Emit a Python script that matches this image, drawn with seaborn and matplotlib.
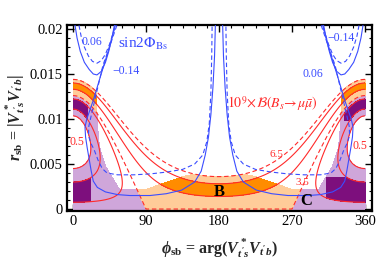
import numpy as np
import matplotlib
matplotlib.use("Agg")
import matplotlib.pyplot as plt
import seaborn as sns

sns.set_theme(style="ticks")
plt.rcParams["font.family"] = ["Liberation Serif", "DejaVu Serif"]
plt.rcParams["mathtext.fontset"] = "custom"
plt.rcParams["mathtext.rm"] = "Liberation Serif:bold"
plt.rcParams["mathtext.it"] = "Liberation Serif:italic:bold"
plt.rcParams["mathtext.bf"] = "Liberation Serif:bold"

# ---------------- data ----------------
phi_ticks = [0, 90, 180, 270, 360]
r_ticks = [0, 0.005, 0.01, 0.015, 0.02]
r_tick_labels = ["0", "0.005", "0.01", "0.015", "0.02"]

# Bs->mu mu contour family: |lambda - c| + tilt*Re(lambda)
br_center = 0.0084
br_tilt = 1.0 / 3.0
br_solid_levels = [0.0054, 0.0064, 0.0079, 0.00933, 0.01027]
br_dashed_levels = [0.0084, 0.0108]
light_purple_band = [0.0054, 0.0084]
dark_purple_band = [0.0064, 0.0079]
light_orange_band = [0.0084, 0.0108]
orange_band = [0.00933, 0.01027]

# Delta m_s allowed boundary (phi in deg, r_sb) for phi in [0,180], mirrored
clip_phi = [0, 27, 30, 33, 40, 57, 90, 135, 180]
clip_r = [0.021, 0.021, 0.0095, 0.0068, 0.0048, 0.0022, 0.0022, 0.0036, 0.0045]
dark_gap = [0.0035, 0.0098]
dark_low_phi = [21, 313]
dark_high_phi = [18, 335]

# sin 2Phi_Bs contours, left half (phi in deg, r_sb); right half is the mirror
s2p_m014_solid_phi = [52, 44.3, 34.4, 24.7, 17, 14.8, 15.5, 17.5, 20, 22.5, 25, 30, 40,
                      55, 70, 95, 115, 134, 150, 158, 163, 167, 170, 172.5, 174.5, 175.5]
s2p_m014_solid_r = [0.0204, 0.0178, 0.0149, 0.0120, 0.0100, 0.0091, 0.0080, 0.0068,
                    0.0055, 0.0042, 0.0031, 0.0024, 0.0019, 0.0016, 0.0015, 0.0015,
                    0.0017, 0.0021, 0.0030, 0.0042, 0.0060, 0.0080, 0.0105, 0.0135,
                    0.0170, 0.0204]
s2p_006_solid_phi = [2.5, 5, 9, 14, 20, 25, 29.6, 35, 40, 44, 47.5, 51]
s2p_006_solid_r = [0.0204, 0.0190, 0.0175, 0.0163, 0.0155, 0.0150, 0.0149, 0.0153,
                   0.0163, 0.0175, 0.0188, 0.0204]
s2p_m014_dashed_phi = [54, 45, 37, 30, 24, 19.5, 19, 21.5, 26, 31, 36, 42, 55, 75, 95,
                       115, 135, 150, 160, 165, 168, 170, 171, 171.5]
s2p_m014_dashed_r = [0.0204, 0.0180, 0.0160, 0.0133, 0.0110, 0.0092, 0.0082, 0.0074,
                     0.0066, 0.0054, 0.0045, 0.0040, 0.0038, 0.0038, 0.0039, 0.0041,
                     0.0044, 0.0050, 0.0060, 0.0075, 0.0095, 0.0130, 0.0170, 0.0204]
s2p_006_dashed_phi = [7.4, 10, 14, 19, 24, 29.6, 35, 40, 45, 49, 52.5]
s2p_006_dashed_r = [0.0204, 0.0192, 0.0180, 0.0170, 0.0164, 0.0162, 0.0165, 0.0172,
                    0.0183, 0.0194, 0.0204]

col_lpurple = "#cfa6da"
col_dpurple = "#7d0f7d"
col_lorange = "#ffcc99"
col_orange = "#ff8c00"
col_red = "#ff2a2a"
col_blue = "#3b4dff"

# ---------------- grid ----------------
PHI = np.linspace(0, 360, 1081)
RAD = np.linspace(0, 0.0208, 521)
P, RR = np.meshgrid(PHI, RAD)
Z = RR * np.exp(1j * np.deg2rad(P))
O = np.abs(Z - br_center) + br_tilt * Z.real

phis = np.minimum(P, 360 - P)
rclip = np.interp(phis, clip_phi, clip_r)
allowed = RR <= rclip
allowed_dark = allowed & (
    ((RR < dark_gap[0]) & ((P <= dark_low_phi[0]) | (P >= dark_low_phi[1])))
    | ((RR > dark_gap[1]) & ((P <= dark_high_phi[0]) | (P >= dark_high_phi[1])))
)

fig = plt.figure(figsize=(3.82, 2.64), dpi=100)
ax = fig.add_axes([67 / 382, 1 - 211 / 264, 305 / 382, 186 / 264])

ax.contourf(P, RR, np.ma.masked_where(~allowed, O), levels=light_purple_band,
            colors=[col_lpurple], zorder=1)
ax.contourf(P, RR, np.ma.masked_where(~allowed, O), levels=light_orange_band,
            colors=[col_lorange], zorder=1)
ax.contourf(P, RR, np.ma.masked_where(~allowed_dark, O), levels=dark_purple_band,
            colors=[col_dpurple], zorder=1.2)
ax.contourf(P, RR, np.ma.masked_where(~allowed, O), levels=orange_band,
            colors=[col_orange], zorder=1.2)

ax.contour(P, RR, O, levels=br_solid_levels, colors=col_red, linewidths=0.8,
           linestyles="solid", zorder=2)
ax.contour(P, RR, O, levels=br_dashed_levels, colors=col_red, linewidths=0.8,
           linestyles=[(0, (4, 2.5))], zorder=2)

dash = (4, 2.5)
for ph, rr, ls in [(s2p_m014_solid_phi, s2p_m014_solid_r, "-"),
                   (s2p_006_solid_phi, s2p_006_solid_r, "-"),
                   (s2p_m014_dashed_phi, s2p_m014_dashed_r, "--"),
                   (s2p_006_dashed_phi, s2p_006_dashed_r, "--")]:
    ph = np.asarray(ph, float)
    for side in (ph, 360 - ph):
        ln, = ax.plot(side, rr, color=col_blue, lw=0.8, zorder=3, solid_joinstyle="round")
        if ls == "--":
            ln.set_dashes(dash)

ax.set_xlim(-7.4, 368.6)
ax.set_ylim(-0.00022, 0.020444)
ax.set_xticks(phi_ticks)
ax.set_xticks(np.arange(0, 361, 15), minor=True)
ax.set_yticks(r_ticks)
ax.set_yticklabels(r_tick_labels)
ax.set_yticks(np.arange(0, 0.0201, 0.001), minor=True)
ax.tick_params(which="both", direction="in", top=True, right=True, colors="black",
               labelsize=10.5, pad=3)
ax.tick_params(which="major", length=5, width=1.0)
ax.tick_params(which="minor", length=2.5, width=0.8)
for s in ax.spines.values():
    s.set_linewidth(1.6)
    s.set_color("black")

ax.set_ylabel(r"$r_{\rm sb}$ = |$V^*_{t's}V_{t'b}$|", fontsize=11.5, fontweight="bold",
              math_fontfamily="custom", labelpad=2)
ax.set_xlabel(r"$\phi_{\rm sb}$ = arg($V^*_{t's}V_{t'b}$)", fontsize=11.5,
              fontweight="bold", math_fontfamily="custom", labelpad=6)

tk = dict(transform=ax.transData, math_fontfamily="stix")
ax.text(55, 0.0183, r"sin2$\Phi_{\rm Bs}$", color=col_blue, fontsize=11, va="center", **tk)
ax.text(11, 0.0186, "0.06", color=col_blue, fontsize=8.5, va="center", **tk)
ax.text(48, 0.0153, "\u22120.14", color=col_blue, fontsize=8.5, va="center", **tk)
ax.text(313, 0.0190, "\u22120.14", color=col_blue, fontsize=8.5, va="center", **tk)
ax.text(283, 0.0150, "0.06", color=col_blue, fontsize=8.5, va="center", **tk)
ax.text(190, 0.0117, r"$10^9\!\times\!\mathcal{B}(B_s\!\rightarrow\!\mu\bar{\mu})$",
        color=col_red, fontsize=10, va="center", **tk)
ax.text(-4, 0.0074, "0.5", color=col_red, fontsize=8.5, va="center", **tk)
ax.text(345, 0.0070, "0.5", color=col_red, fontsize=8.5, va="center", **tk)
ax.text(242, 0.0061, "6.5", color=col_red, fontsize=8, va="center", **tk)
ax.text(274, 0.0030, "3.5", color=col_red, fontsize=8, va="center", **tk)
ax.text(180, 0.0019, "B", color="black", fontsize=12, fontweight="bold", ha="center",
        va="center")
ax.text(287, 0.0009, "C", color="black", fontsize=12, fontweight="bold", ha="center",
        va="center")

fig.savefig("out.png", dpi=100)
